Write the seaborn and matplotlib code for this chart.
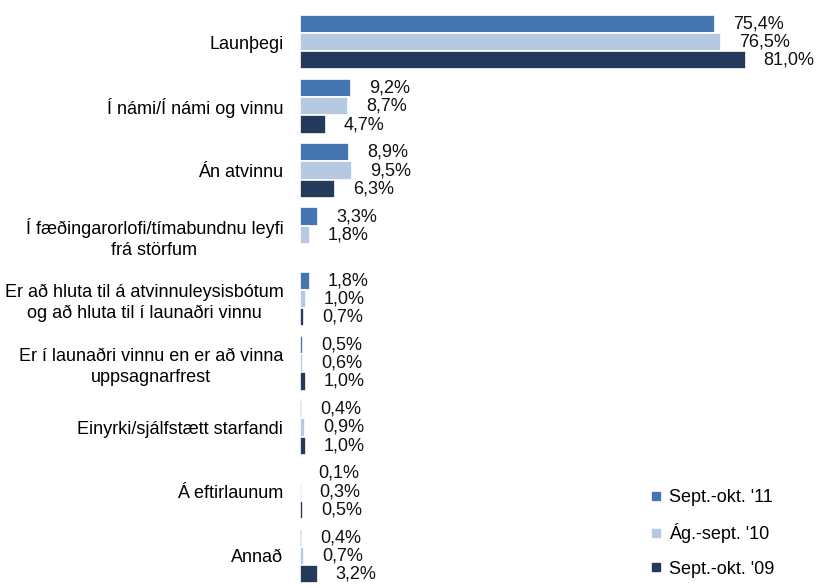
import matplotlib
matplotlib.use("Agg")
import matplotlib.pyplot as plt
from matplotlib.lines import Line2D
import seaborn as sns
import numpy as np
import pandas as pd

categories = [
    "Launþegi",
    "Í námi/Í námi og vinnu",
    "Án atvinnu",
    "Í fæðingarorlofi/tímabundnu leyfi\nfrá störfum",
    "Er að hluta til á atvinnuleysisbótum\nog að hluta til í launaðri vinnu",
    "Er í launaðri vinnu en er að vinna\nuppsagnarfrest",
    "Einyrki/sjálfstætt starfandi",
    "Á eftirlaunum",
    "Annað",
]
series_names = ["Sept.-okt. '11", "Ág.-sept. '10", "Sept.-okt. '09"]
sept_okt_11 = [75.4, 9.2, 8.9, 3.3, 1.8, 0.5, 0.4, 0.1, 0.4]
ag_sept_10 = [76.5, 8.7, 9.5, 1.8, 1.0, 0.6, 0.9, 0.3, 0.7]
sept_okt_09 = [81.0, 4.7, 6.3, np.nan, 0.7, 1.0, 1.0, 0.5, 3.2]
colors = ["#4676b1", "#b5c9e3", "#243a5a"]

df = pd.DataFrame({
    "cat": categories * 3,
    "series": [series_names[0]] * 9 + [series_names[1]] * 9 + [series_names[2]] * 9,
    "value": sept_okt_11 + ag_sept_10 + sept_okt_09,
})

plt.rcParams["font.family"] = ["Liberation Sans", "DejaVu Sans"]

fig = plt.figure(figsize=(8.31, 5.88), dpi=100)
ax = fig.add_axes([300 / 831, 0.0, 495 / 831, 1 - 10 / 588])

sns.barplot(data=df, x="value", y="cat", hue="series", order=categories,
            hue_order=series_names, palette=colors, saturation=1, orient="h",
            width=0.85, edgecolor="white", linewidth=1.2, ax=ax, legend=False)

for cont in ax.containers:
    labels = []
    for bar in cont:
        w = bar.get_width()
        labels.append("" if np.isnan(w) else f"{w:.1f}%".replace(".", ","))
    ax.bar_label(cont, labels=labels, padding=13, fontsize=13, color="#111111")

ax.set_xlim(0, 90)
ax.set_ylim(8.5, -0.5)
ax.set_xlabel("")
ax.set_ylabel("")
ax.set_xticks([])
for s in ax.spines.values():
    s.set_visible(False)
ax.tick_params(axis="y", length=0, pad=12, labelsize=13)
for lbl in ax.get_yticklabels():
    lbl.set_multialignment("center")
    lbl.set_linespacing(1.3)

handles = [Line2D([], [], marker="s", linestyle="", markersize=5.5,
                  markerfacecolor=c, markeredgecolor=c) for c in colors]
ax.legend(handles, series_names, loc="lower left", bbox_to_anchor=(0.672, -0.01),
          frameon=False, fontsize=13, labelspacing=0.95, handletextpad=0.3,
          handlelength=0.8)

plt.savefig("out.png", dpi=100)
plt.close()
